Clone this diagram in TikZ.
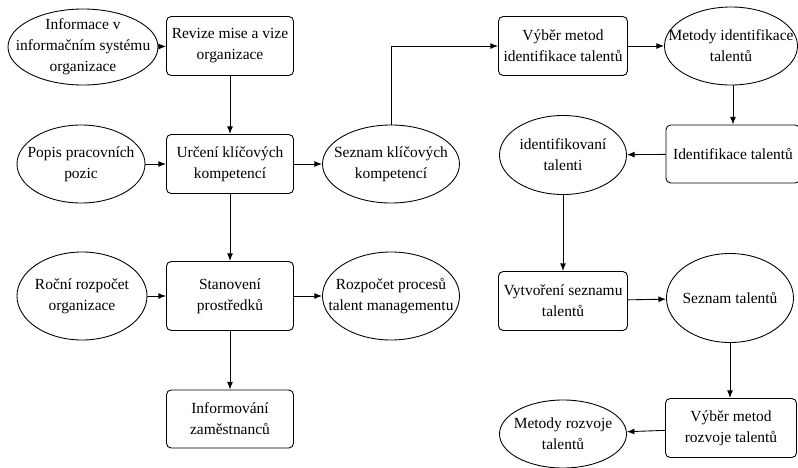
\documentclass[tikz,border=0pt]{standalone}
\usepackage{fontspec}
\setmainfont{Liberation Serif}
\usetikzlibrary{shapes.geometric, arrows.meta}
\tikzset{
	krok/.style={draw, rounded corners=4pt, minimum width=3.81cm, minimum height=1.77cm},
	vystup/.style={draw, ellipse, inner xsep=-20pt, inner ysep=-10pt, minimum width=3.84cm, minimum height=2.34cm}
}
\begin{document}
\begin{tikzpicture}[x=0.03cm, y=-0.03cm, >={Latex[length=6.5pt,width=5pt]}, line width=0.75pt,
		every node/.style={font=\fontsize{13.2}{18}\selectfont, align=center, inner sep=0pt}]
				\useasboundingbox (0,0) rectangle (798,468);
				% Manual node positions
				\node[vystup, minimum width=4.5cm, minimum height=2.28cm] (info) at (83,47) {Informace v\\informačním systému\\organizace};
				\node[krok] (revize) at (230,46) {Revize mise a vize\\organizace};
				\node[vystup] (popis) at (81,164) {Popis pracovních\\pozic};
				\node[krok] (urceni) at (230,164) {Určení klíčových\\kompetencí};
				\node[vystup, minimum width=4.11cm] (seznamK) at (391,164) {Seznam klíčových\\kompetencí};
				\node[vystup, minimum width=3.9cm, minimum height=2.64cm] (rocni) at (82,296) {Roční rozpočet\\organizace};
				\node[krok, minimum height=2.07cm] (stanoveni) at (230,296) {Stanovení\\prostředků};
				\node[vystup, minimum width=4.11cm, minimum height=2.64cm] (rozpocet) at (391,296) {Rozpočet procesů\\talent managementu};
				\node[krok, minimum height=1.74cm] (informovani) at (230,419) {Informování\\zaměstnanců};
				\node[krok, minimum width=3.87cm] (vyberI) at (563,46) {Výběr metod\\identifikace talentů};
				\node[vystup, minimum width=3.99cm] (metodyI) at (731,46) {Metody identifikace\\talentů};
				\node[krok, minimum width=4.02cm, minimum height=1.74cm] (identifikace) at (733,154) {Identifikace talentů};
				\node[vystup, minimum width=3.81cm, minimum height=2.37cm] (talenti) at (563,155) {identifikovaní\\talenti};
				\node[krok, minimum width=3.87cm] (vytvoreni) at (563,301) {Vytvoření seznamu\\talentů};
				\node[vystup, minimum width=3.81cm, minimum height=2.67cm] (seznamT) at (730,298) {Seznam talentů};
				\node[krok, minimum width=3.93cm] (vyberR) at (731,428) {Výběr metod\\rozvoje talentů};
				\node[vystup, minimum width=3.81cm, minimum height=2.04cm] (metodyR) at (563,434) {Metody rozvoje\\talentů};

				% Connections
				\draw[->] (info) -- (revize);
				\draw[->] (revize) -- (urceni);
				\draw[->] (popis) -- (urceni);
				\draw[->] (urceni) -- (seznamK);
				\draw[->] (urceni) -- (stanoveni);
				\draw[->] (rocni) -- (stanoveni);
				\draw[->] (stanoveni) -- (rozpocet);
				\draw[->] (stanoveni) -- (informovani);
				\draw[->] (seznamK) |- (vyberI);
				\draw[->] (vyberI) -- (metodyI);
				\draw[->] (metodyI.south -| identifikace.north) -- (identifikace.north);
				\draw[->] (identifikace) -- (talenti);
				\draw[->] (talenti) -- (vytvoreni);
				\draw[->] (vytvoreni) -- (seznamT);
				\draw[->] (seznamT) -- (vyberR.north -| seznamT.south);
				\draw[->] (vyberR) -- (metodyR);

			\end{tikzpicture}
\end{document}
